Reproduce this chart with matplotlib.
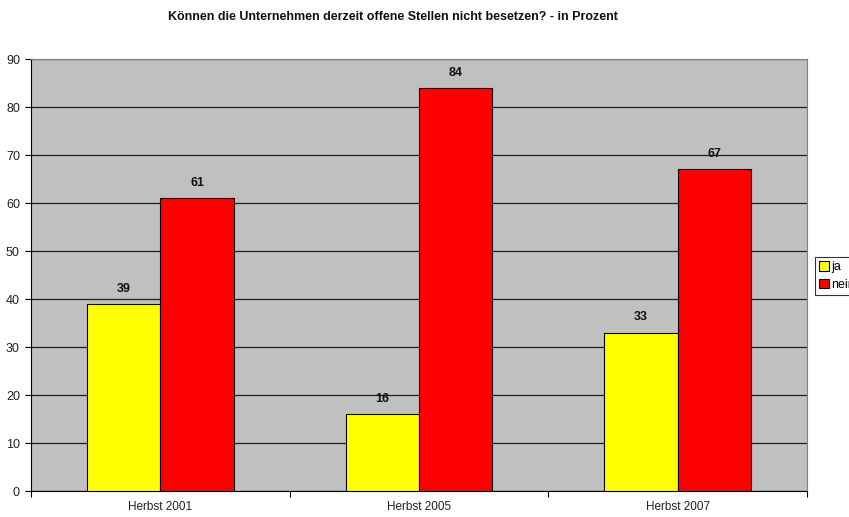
import matplotlib.pyplot as plt
import numpy as np

plt.rcParams['font.family'] = ['Liberation Sans', 'DejaVu Sans']

kategorien = ["Herbst 2001", "Herbst 2005", "Herbst 2007"]
ja = [39, 16, 33]
nein = [61, 84, 67]
serien = ["ja", "nein"]

fig = plt.figure(figsize=(8.49, 5.17), dpi=100)
ax = fig.add_axes([31/849, 26/517, 776/849, 432/517])
ax.set_facecolor("#C0C0C0")

x = np.arange(len(kategorien))
breite = 0.284

b1 = ax.bar(x - breite/2, ja, width=breite, color="#FFFF00", edgecolor="black",
            linewidth=0.8, label=serien[0], zorder=3)
b2 = ax.bar(x + breite/2, nein, width=breite, color="#FF0000", edgecolor="black",
            linewidth=0.8, label=serien[1], zorder=3)

for bars in (b1, b2):
    for b in bars:
        ax.text(b.get_x() + b.get_width()/2, b.get_height() + 1.9, str(int(b.get_height())),
                ha='center', va='bottom', fontsize=9, fontweight='bold', color='#111111')

ax.set_xlim(-0.5, 2.5)
ax.set_ylim(0, 90)
ax.set_yticks(range(0, 91, 10))
ax.yaxis.grid(True, color="#202020", linewidth=0.9, zorder=1)
ax.set_axisbelow(True)

ax.set_xticks(x)
ax.set_xticklabels(kategorien, fontsize=8.5, color='#222222')
ax.set_xticks([-0.5, 0.5, 1.5, 2.5], minor=True)
ax.tick_params(axis='x', which='major', length=0, pad=7)
ax.tick_params(axis='x', which='minor', length=4, width=0.8, direction='out')
ax.tick_params(axis='y', length=4, width=0.8, labelsize=9, pad=4, labelcolor='#222222')

ax.spines['left'].set_color('black')
ax.spines['bottom'].set_color('black')
ax.spines['top'].set_color('#808080')
ax.spines['right'].set_color('#808080')

fig.text(393/849, 1 - 17/517, "Können die Unternehmen derzeit offene Stellen nicht besetzen? - in Prozent",
         ha='center', va='center', fontsize=9, fontweight='bold', color='#111111')

# Legende wie im Original rechts angeschnitten
leg = fig.legend(loc='upper left', bbox_to_anchor=(815/849, 1 - 257/517), fontsize=9,
                 frameon=True, fancybox=False, edgecolor='black', borderpad=0.35,
                 handlelength=0.75, handleheight=0.75, handletextpad=0.2, labelspacing=0.45,
                 borderaxespad=0)
leg.get_frame().set_linewidth(0.8)

fig.savefig("out.png", dpi=100)
